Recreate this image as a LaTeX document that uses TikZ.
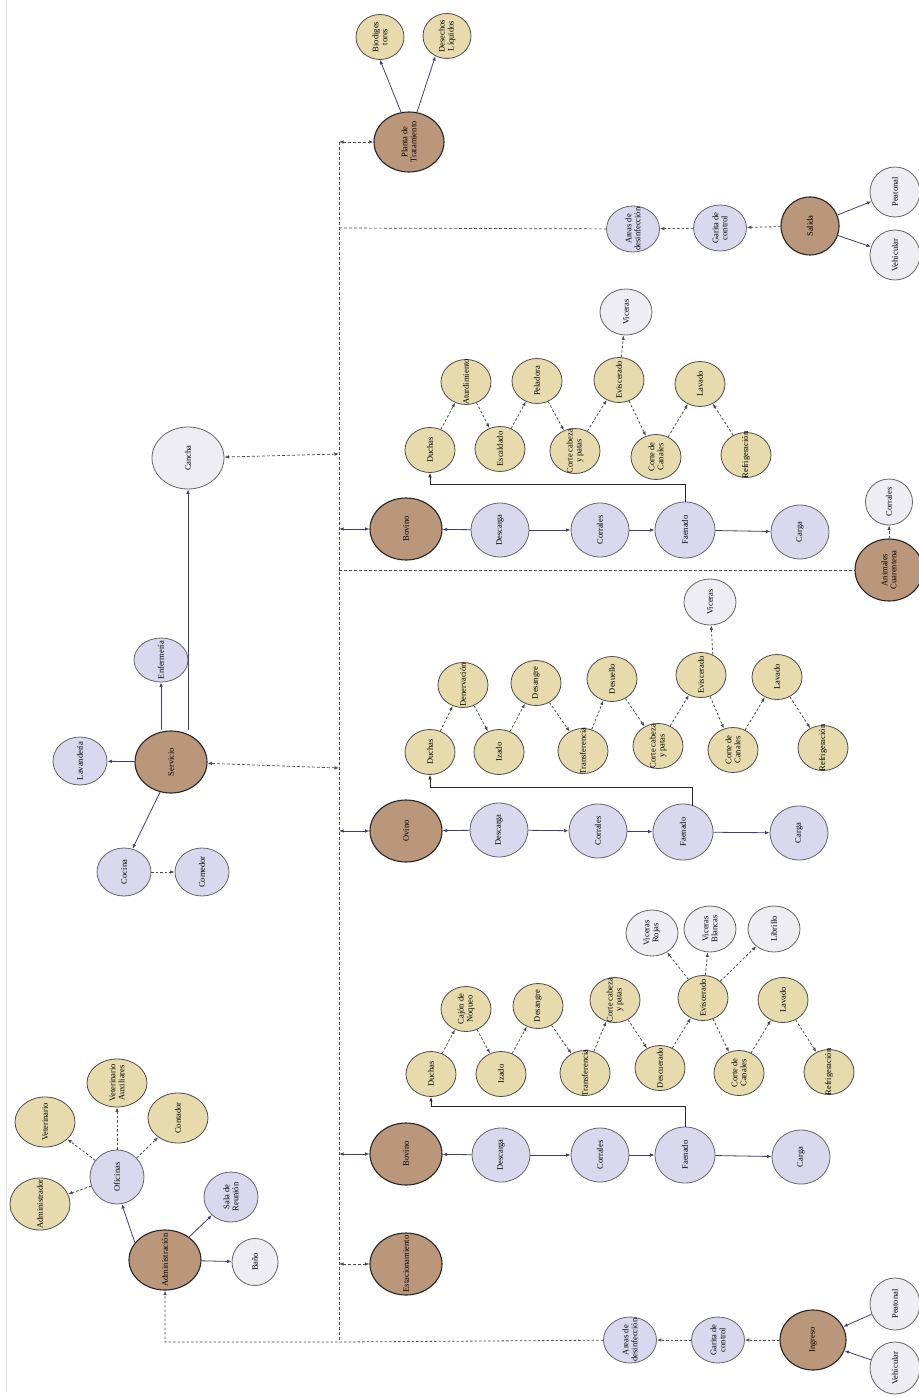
\documentclass[tikz,border=0pt]{standalone}
\usepackage{fontspec}
\setmainfont{Liberation Serif}
\usetikzlibrary{arrows.meta, calc, shapes.geometric}

\definecolor{cafe}{RGB}{186,151,122}
\definecolor{lila}{RGB}{218,216,238}
\definecolor{crema}{RGB}{231,219,174}
\definecolor{gris}{RGB}{237,237,243}
\definecolor{azul}{RGB}{62,62,112}

\begin{document}
\begin{tikzpicture}[
    x=1pt, y=-1pt,
    font=\fontsize{8.5}{9}\selectfont,
    every label/.style={rotate=90, align=center, inner sep=0pt},
    zona/.style={ellipse, draw=black!85, line width=1.1pt, fill=cafe, minimum width=72pt, minimum height=62pt, inner sep=0pt},
    area/.style={ellipse, draw=black!60, line width=0.8pt, fill=lila, minimum width=58pt, minimum height=54pt, inner sep=0pt},
    sub/.style={area, minimum width=54pt, minimum height=48pt},
    puesto/.style={area, minimum width=53pt, minimum height=46pt},
    paso/.style={ellipse, draw=black!70, line width=0.8pt, fill=crema, minimum width=50pt, minimum height=45pt, inner sep=0pt},
    resto/.style={ellipse, draw=black!60, line width=0.8pt, fill=gris, minimum width=52pt, minimum height=46pt, inner sep=0pt},
    flecha/.style={-{Latex[length=4.5pt,width=3.5pt]}, draw=azul, line width=0.8pt},
    punteada/.style={-{Latex[length=4.5pt,width=3.5pt]}, draw=black!70, line width=0.8pt, dash pattern=on 2.5pt off 2pt},
    bus/.style={draw=black!70, line width=0.7pt, dash pattern=on 3pt off 2pt},
    ambas/.style={{Latex[length=4.5pt,width=3.5pt]}-{Latex[length=4.5pt,width=3.5pt]}}
]
\useasboundingbox (0,0) rectangle (918,1396);
\fill[white] (0,0) rectangle (918,1396);
\draw[black!12, line width=1pt] (6,0) -- (6,1392);

% planta y salida
\node[zona, minimum width=70pt, minimum height=60pt, label=center:{Planta de\\Tratamiento}] (planta) at (409,142) {};
\node[paso, minimum width=48pt, label=center:{Biodiges\\tores}] (biodig) at (380,37) {};
\node[paso, minimum width=48pt, label=center:{Desechos\\Líquidos}] (desech) at (447,36) {};
\node[puesto, label=center:{Areas de\\desinfección}] (areasS) at (633,229) {};
\node[puesto, label=center:{Garita de\\control}] (garitaS) at (720,228) {};
\node[zona, minimum width=58pt, minimum height=58pt, label=center:Salida] (salida) at (810,226) {};
\node[resto, minimum width=50pt, minimum height=50pt, label=center:Peatonal] (peatS) at (895,192) {};
\node[resto, minimum width=50pt, minimum height=50pt, label=center:Vehicular] (vehicS) at (895,255) {};

% cuarentena
\node[zona, minimum width=68pt, label=center:{Animales\\Cuarentena}] (cuarent) at (889,570) {};
\node[resto, minimum width=47pt, label=center:Corrales] (corralQ) at (889,502) {};

% linea bovino (arriba)
\node[zona, label=center:Bovino] (bovA) at (406,529) {};
\node[area, label=center:Descarga] (desA) at (500,530) {};
\node[area, label=center:Corrales] (corA) at (600,530) {};
\node[area, minimum width=60pt, minimum height=56pt, label=center:Faenado] (faeA) at (685,530) {};
\node[area, label=center:Carga] (carA) at (800,532) {};
\node[paso, label=center:Duchas] (ducA) at (430,450) {};
\node[paso, label=center:Aturdimiento] (atuA) at (466,382) {};
\node[paso, label=center:Escaldado] (escA) at (500,449) {};
\node[paso, label=center:Peladora] (pelA) at (537,381) {};
\node[paso, label=center:{Corte cabeza\\y patas}] (ccA) at (575,451) {};
\node[paso, label=center:Eviscerado] (eviA) at (619,380) {};
\node[paso, label=center:{Corte de\\Canales}] (canA) at (656,457) {};
\node[paso, label=center:Lavado] (lavA) at (700,384) {};
\node[paso, label=center:Refrigeración] (refA) at (746,455) {};
\node[resto, label=center:Viceras] (visA) at (626,312) {};

% linea ovino
\node[zona, label=center:Ovino] (ovino) at (406,831) {};
\node[area, label=center:Descarga] (desB) at (499,830) {};
\node[area, label=center:Corrales] (corB) at (598,831) {};
\node[area, minimum width=60pt, minimum height=56pt, label=center:Faenado] (faeB) at (683,832) {};
\node[area, label=center:Carga] (carB) at (799,833) {};
\node[paso, label=center:Duchas] (ducB) at (430,752) {};
\node[paso, label=center:Denervación] (denB) at (463,685) {};
\node[paso, label=center:Izado] (izaB) at (499,752) {};
\node[paso, label=center:Desangre] (dsgB) at (536,683) {};
\node[paso, label=center:Transferencia] (traB) at (583,751) {};
\node[paso, label=center:Desuello] (dslB) at (612,679) {};
\node[paso, label=center:{Corte cabeza\\y patas}] (ccB) at (658,746) {};
\node[paso, label=center:Eviscerado] (eviB) at (701,675) {};
\node[paso, label=center:{Corte de\\Canales}] (canB) at (733,750) {};
\node[paso, label=center:Lavado] (lavB) at (777,677) {};
\node[paso, label=center:Refrigeración] (refB) at (823,748) {};
\node[resto, label=center:Viceras] (visB) at (710,602) {};

% linea bovino (abajo)
\node[zona, label=center:Bovino] (bovC) at (406,1154) {};
\node[area, label=center:Descarga] (desC) at (501,1155) {};
\node[area, label=center:Corrales] (corC) at (600,1155) {};
\node[area, minimum width=60pt, minimum height=56pt, label=center:Faenado] (faeC) at (685,1155) {};
\node[area, label=center:Carga] (carC) at (801,1157) {};
\node[paso, label=center:Duchas] (ducC) at (431,1074) {};
\node[paso, label=center:{Cajón de\\Noqueo}] (cajC) at (466,1009) {};
\node[paso, label=center:Izado] (izaC) at (501,1074) {};
\node[paso, label=center:Desangre] (dsgC) at (538,1006) {};
\node[paso, label=center:Transferencia] (traC) at (585,1073) {};
\node[paso, label=center:{Corte cabeza\\y patas}] (ccC) at (615,1000) {};
\node[paso, label=center:Descuerado] (dscC) at (660,1068) {};
\node[paso, label=center:Eviscerado] (eviC) at (703,998) {};
\node[paso, label=center:{Corte de\\Canales}] (canC) at (739,1073) {};
\node[paso, label=center:Lavado] (lavC) at (783,1000) {};
\node[paso, label=center:Refrigeración] (refC) at (829,1072) {};
\node[resto, label=center:{Viceras\\Rojas}] (vrojC) at (652,933) {};
\node[resto, label=center:{Viceras\\Blancas}] (vblaC) at (710,929) {};
\node[resto, label=center:Librillo] (librC) at (774,929) {};

% servicio
\node[resto, minimum width=72pt, minimum height=62pt, label=center:Cancha] (cancha) at (188,458) {};
\node[zona, label=center:Servicio] (servicio) at (171,762) {};
\node[sub, minimum height=44pt, label=center:Enfermería] (enfer) at (161,660) {};
\node[sub, label=center:Lavandería] (lavand) at (80,761) {};
\node[sub, label=center:Cocina] (cocina) at (124,872) {};
\node[sub, label=center:Comedor] (comedor) at (202,872) {};

% administracion
\node[zona, minimum height=60pt, label=center:Administración] (admin) at (165,1260) {};
\node[sub, minimum height=54pt, label=center:Oficinas] (oficinas) at (117,1177) {};
\node[paso, minimum width=60pt, minimum height=52pt, label=center:Administrador] (admor) at (40,1204) {};
\node[paso, minimum width=60pt, minimum height=50pt, label=center:Veterinario] (veter) at (45,1122) {};
\node[paso, minimum width=60pt, minimum height=48pt, label=center:{Veterinario\\Auxiliares}] (vetaux) at (117,1083) {};
\node[paso, minimum width=60pt, minimum height=50pt, label=center:Contador] (contad) at (178,1118) {};
\node[sub, minimum height=50pt, label=center:{Sala de\\Reunión}] (sala) at (231,1197) {};
\node[resto, minimum width=46pt, minimum height=47pt, label=center:Baño] (bano) at (255,1262) {};

% ingreso
\node[zona, label=center:Estacionamiento] (estac) at (406,1264) {};
\node[puesto, label=center:{Areas de\\desinfección}] (areasI) at (630,1340) {};
\node[puesto, label=center:{Garita de\\control}] (garitaI) at (718,1340) {};
\node[zona, minimum width=66pt, minimum height=60pt, label=center:Ingreso] (ingreso) at (813,1340) {};
\node[resto, minimum width=50pt, minimum height=52pt, label=center:Peatonal] (peatI) at (895,1304) {};
\node[resto, minimum width=50pt, minimum height=52pt, label=center:Vehicular] (vehicI) at (895,1368) {};

% eje de circulacion
\coordinate (busT) at (339,142);
\coordinate (busS) at (339,228);
\coordinate (busK) at (339,454);
\coordinate (busA) at (339,529);
\coordinate (busQ) at (339,570);
\coordinate (busV) at (339,768);
\coordinate (busO) at (339,831);
\coordinate (busC) at (339,1154);
\coordinate (busE) at (339,1264);
\coordinate (busB) at (339,1342);
\draw[bus] (busT) -- (busB);
\draw[bus] (busS) -- (areasS);
\draw[bus] (busQ) -- (cuarent);
\draw[bus, ambas] (busT) -- (planta);
\draw[bus, ambas] (busK) -- (cancha);
\draw[bus, ambas] (busV) -- (servicio);
\draw[bus, ambas] (busE) -- (estac);
\draw[flecha, ambas] (busA) -- (bovA);
\draw[flecha, ambas] (busO) -- (ovino);
\draw[flecha, ambas] (busC) -- (bovC);
\draw[punteada] (areasI) -- (busB) -| (admin);

% planta y salida
\draw[flecha] (planta.105) -- (biodig.south);
\draw[flecha] (planta.75) -- (desech.240);
\draw[punteada] (salida) -- (garitaS);
\draw[punteada] (garitaS) -- (areasS);
\draw[flecha] (salida) -- (peatS);
\draw[flecha] (salida) -- (vehicS);
\draw[punteada] (cuarent) -- (corralQ);

% bovino (arriba)
\draw[flecha] (desA) -- (bovA);
\draw[flecha] (desA) -- (corA);
\draw[flecha] (corA) -- (faeA);
\draw[flecha] (faeA) -- (carA);
\draw[flecha, draw=black!85] (faeA.north) -- ++(0,-17) -| (ducA);
\draw[punteada] (ducA) -- (atuA);
\draw[punteada] (atuA) -- (escA);
\draw[punteada] (escA) -- (pelA);
\draw[punteada] (pelA) -- (ccA);
\draw[punteada] (ccA) -- (eviA);
\draw[punteada] (eviA) -- (canA);
\draw[punteada] (canA) -- (lavA);
\draw[punteada] (refA) -- (lavA);
\draw[punteada] (eviA) -- (visA);

% ovino
\draw[flecha] (desB) -- (ovino);
\draw[flecha] (desB) -- (corB);
\draw[flecha] (corB) -- (faeB);
\draw[flecha] (faeB) -- (carB);
\draw[flecha, draw=black!85] ($(faeB.north)+(9,2)$) -- ++(0,-18) -| (ducB);
\draw[punteada] (ducB) -- (denB);
\draw[punteada] (denB) -- (izaB);
\draw[punteada] (izaB) -- (dsgB);
\draw[punteada] (dsgB) -- (traB);
\draw[punteada] (traB) -- (dslB);
\draw[punteada] (dslB) -- (ccB);
\draw[punteada] (ccB) -- (eviB);
\draw[punteada] (eviB) -- (canB);
\draw[punteada] (canB) -- (lavB);
\draw[punteada] (lavB) -- (refB);
\draw[punteada] (eviB.60) -- (visB);

% bovino (abajo)
\draw[flecha] (desC) -- (bovC);
\draw[flecha] (desC) -- (corC);
\draw[flecha] (corC) -- (faeC);
\draw[flecha] (faeC) -- (carC);
\draw[flecha, draw=black!85] (faeC.north) -- ++(0,-20) -| (ducC);
\draw[punteada] (ducC) -- (cajC);
\draw[punteada] (cajC) -- (izaC);
\draw[punteada] (izaC) -- (dsgC);
\draw[punteada] (dsgC) -- (traC);
\draw[punteada] (traC) -- (ccC);
\draw[punteada] (ccC) -- (dscC);
\draw[punteada] (dscC) -- (eviC);
\draw[punteada] (eviC) -- (canC);
\draw[punteada] (canC) -- (lavC);
\draw[punteada] (lavC) -- (refC);
\draw[punteada] (eviC) -- (vrojC);
\draw[punteada] (eviC) -- (vblaC);
\draw[punteada] (eviC) -- (librC);

% servicio
\draw[flecha] (servicio) -- (lavand);
\draw[flecha] (servicio.north -| enfer.south) -- (enfer.south);
\draw[flecha] (servicio.north -| cancha.south) -- (cancha.south);
\draw[flecha] (servicio.250) -- (cocina.70);
\draw[punteada] (cocina) -- (comedor);

% administracion
\draw[flecha] (admin.150) -- (oficinas.280);
\draw[flecha] (admin) -- (sala);
\draw[flecha] (admin) -- (bano);
\draw[punteada] (oficinas) -- (admor);
\draw[punteada] (oficinas) -- (veter);
\draw[punteada] (oficinas) -- (vetaux);
\draw[punteada] (oficinas) -- (contad);

% ingreso
\draw[flecha] (peatI) -- (ingreso);
\draw[flecha] (vehicI) -- (ingreso);
\draw[punteada] (ingreso) -- (garitaI);
\draw[punteada] (garitaI) -- (areasI);
\end{tikzpicture}
\end{document}
